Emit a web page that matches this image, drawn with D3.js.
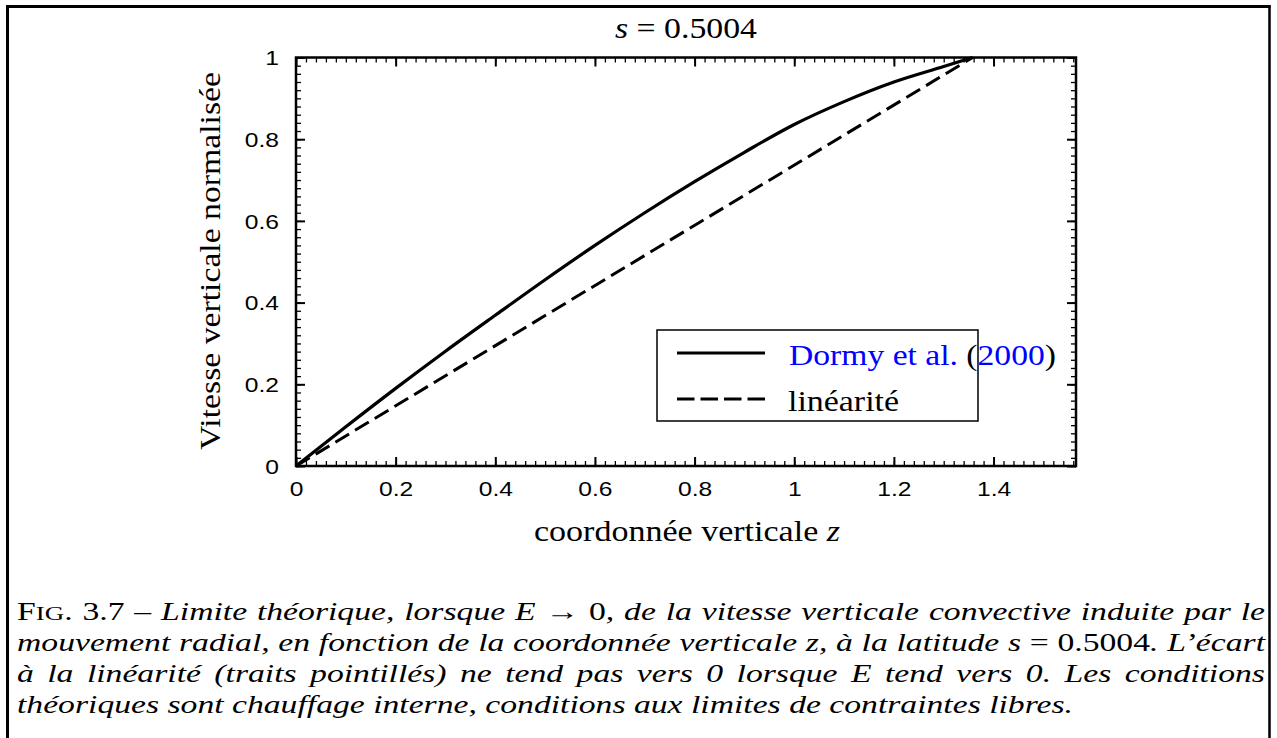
<!DOCTYPE html>
<html>
<head>
<meta charset="utf-8">
<script src="https://cdn.jsdelivr.net/npm/d3@7"></script>
<style>
  html, body { margin: 0; padding: 0; background: #fff; }
  svg { display: block; }
</style>
</head>
<body>
<svg id="fig"></svg>
<script>
// ---- data ----
var zDormy = [0, 0.1, 0.2, 0.3, 0.4, 0.5, 0.6, 0.7, 0.8, 0.9, 1.0, 1.1, 1.2, 1.3, 1.358];
var vDormy = [0, 0.096, 0.19, 0.281, 0.369, 0.456, 0.540, 0.620, 0.696, 0.768, 0.836, 0.892, 0.940, 0.978, 1.0];
var zLin = [0, 1.358];
var vLin = [0, 1];

var xMajor = [0, 0.2, 0.4, 0.6, 0.8, 1, 1.2, 1.4];
var yMajor = [0, 0.2, 0.4, 0.6, 0.8, 1];
var xMax = 1.5655;

var legendNames = ["Dormy et al. (2000)", "linéarité"];
var xLabel = "coordonnée verticale ";
var yLabel = "Vitesse verticale normalisée";

// caption: [text, style]  r = roman, sc = small caps, i = italic text, m = math italic
var caption = [
  [["F", "r"], ["IG", "sc"], [". 3.7 – ", "r"], ["Limite théorique, lorsque ", "i"], ["E", "m"], [" → 0", "r"],
   [", de la vitesse verticale convective induite par le", "i"]],
  [["mouvement radial, en fonction de la coordonnée verticale ", "i"], ["z", "m"], [", à la latitude ", "i"],
   ["s", "m"], [" = 0.5004", "r"], [". L’écart", "i"]],
  [["à la linéarité (traits pointillés) ne tend pas vers 0 lorsque ", "i"], ["E", "m"],
   [" tend vers 0. Les conditions", "i"]],
  [["théoriques sont chauffage interne, conditions aux limites de contraintes libres.", "i"]]
];

(function() {
  "use strict";
  var W = 1277, H = 738;
  var serif = "'Liberation Serif', 'Times New Roman', serif";
  var sans = "'Liberation Sans', Arial, sans-serif";

  var svg = d3.select("#fig").attr("width", W).attr("height", H);

  var x = d3.scaleLinear().domain([0, xMax]).range([296, 1076]);
  var y = d3.scaleLinear().domain([0, 1]).range([466, 57.5]);

  var minorX = d3.range(0, 79).map(function(i) { return i * 0.02; }).filter(function(v) { return v <= xMax; });
  var minorY = d3.range(0, 51).map(function(i) { return i * 0.02; });
  var fmt = d3.format("~g");

  // outer frame (open at the bottom)
  svg.append("line").attr("x1", 7.5).attr("x2", 7.5).attr("y1", 5).attr("y2", H)
    .attr("stroke", "#000").attr("stroke-width", 3);
  svg.append("line").attr("x1", 6).attr("x2", 1270.5).attr("y1", 6.5).attr("y2", 6.5)
    .attr("stroke", "#000").attr("stroke-width", 3);
  svg.append("line").attr("x1", 1269.5).attr("x2", 1269.5).attr("y1", 5).attr("y2", H)
    .attr("stroke", "#000").attr("stroke-width", 2.5);

  var plot = svg.append("g");

  // minor ticks on all sides
  function minor(axis, tr) {
    plot.append("g").attr("transform", tr).call(axis.tickSize(-5).tickFormat(""))
      .call(function(g) { g.select(".domain").remove(); })
      .selectAll("line").attr("stroke", "#000").attr("stroke-width", 1.3);
  }
  minor(d3.axisBottom(x).tickValues(minorX), "translate(0,466)");
  minor(d3.axisTop(x).tickValues(minorX), "translate(0,57.5)");
  minor(d3.axisLeft(y).tickValues(minorY), "translate(296,0)");
  minor(d3.axisRight(y).tickValues(minorY), "translate(1076,0)");

  // major ticks
  function major(axis, tr, labels) {
    var g = plot.append("g").attr("transform", tr).call(axis.tickSize(-9))
      .call(function(g) { g.select(".domain").remove(); });
    g.selectAll("line").attr("stroke", "#000").attr("stroke-width", 2);
    if (!labels) g.selectAll("text").remove();
    return g;
  }
  var xb = major(d3.axisBottom(x).tickValues(xMajor).tickFormat(fmt).tickPadding(15), "translate(0,466)", true);
  xb.selectAll("text").attr("font-family", sans).attr("font-size", 20.5).attr("fill", "#000")
    .attr("transform", "scale(1.2,1)");
  major(d3.axisTop(x).tickValues(xMajor), "translate(0,57.5)", false);
  var yl = major(d3.axisLeft(y).tickValues(yMajor).tickFormat(fmt), "translate(296,0)", true);
  yl.selectAll("text").attr("font-family", sans).attr("font-size", 20.5).attr("fill", "#000")
    .attr("x", -17 / 1.2).attr("dy", "0.36em").attr("transform", "scale(1.2,1)");
  major(d3.axisRight(y).tickValues(yMajor), "translate(1076,0)", false);

  // plot frame
  plot.append("rect").attr("x", 296).attr("y", 57.5).attr("width", 780).attr("height", 408.5)
    .attr("fill", "none").attr("stroke", "#000").attr("stroke-width", 2.5);

  // curves
  var line = d3.line().x(function(d) { return x(d[0]); }).y(function(d) { return y(d[1]); })
    .curve(d3.curveMonotoneX);
  plot.append("path").datum(d3.zip(zLin, vLin)).attr("d", line)
    .attr("fill", "none").attr("stroke", "#000").attr("stroke-width", 3).attr("stroke-dasharray", "16,7");
  plot.append("path").datum(d3.zip(zDormy, vDormy)).attr("d", line)
    .attr("fill", "none").attr("stroke", "#000").attr("stroke-width", 3.2);

  // title
  var t = svg.append("text").attr("x", 686).attr("y", 38).attr("text-anchor", "middle")
    .attr("font-family", serif).attr("font-size", 30).attr("textLength", 142).attr("lengthAdjust", "spacingAndGlyphs");
  t.append("tspan").attr("font-style", "italic").text("s");
  t.append("tspan").text(" = 0.5004");

  // axis labels
  var xl = svg.append("text").attr("x", 687).attr("y", 541).attr("text-anchor", "middle")
    .attr("font-family", serif).attr("font-size", 30).attr("textLength", 306).attr("lengthAdjust", "spacingAndGlyphs");
  xl.append("tspan").text(xLabel);
  xl.append("tspan").attr("font-style", "italic").text("z");

  svg.append("text").attr("transform", "translate(220,261) rotate(-90)").attr("text-anchor", "middle")
    .attr("font-family", serif).attr("font-size", 30).attr("textLength", 378).attr("lengthAdjust", "spacingAndGlyphs")
    .text(yLabel);

  // legend
  var lg = svg.append("g");
  lg.append("rect").attr("x", 657).attr("y", 330).attr("width", 321).attr("height", 91)
    .attr("fill", "#fff").attr("stroke", "#000").attr("stroke-width", 1.5);
  lg.append("line").attr("x1", 677).attr("x2", 765).attr("y1", 353).attr("y2", 353)
    .attr("stroke", "#000").attr("stroke-width", 3);
  lg.append("line").attr("x1", 677).attr("x2", 765).attr("y1", 399).attr("y2", 399)
    .attr("stroke", "#000").attr("stroke-width", 3).attr("stroke-dasharray", "17.5,6");
  var l1 = lg.append("text").attr("x", 789).attr("y", 365).attr("font-family", serif).attr("font-size", 30)
    .attr("textLength", 267).attr("lengthAdjust", "spacingAndGlyphs");
  var parts = legendNames[0].match(/^(.*? )(\()(\d+)(\))$/);
  l1.append("tspan").attr("fill", "#0000ff").text(parts[1]);
  l1.append("tspan").attr("fill", "#000").text(parts[2]);
  l1.append("tspan").attr("fill", "#0000ff").text(parts[3]);
  l1.append("tspan").attr("fill", "#000").text(parts[4]);
  lg.append("text").attr("x", 788).attr("y", 411).attr("font-family", serif).attr("font-size", 30)
    .attr("textLength", 111).attr("lengthAdjust", "spacingAndGlyphs").text(legendNames[1]);

  // caption
  var capX = 17, capW = 1248, lastW = 1056, baseY = 620, lead = 31, fs = 24.5;
  var lines = caption.map(function(segs, i) {
    var tx = svg.append("text").attr("x", capX).attr("y", baseY + i * lead)
      .attr("font-family", serif).attr("font-size", fs).attr("fill", "#000");
    segs.forEach(function(s) {
      var sp = tx.append("tspan").text(s[0]);
      if (s[1] === "i" || s[1] === "m") sp.attr("font-style", "italic");
      if (s[1] === "sc") sp.attr("font-size", "0.8em");
    });
    return tx;
  });
  // horizontal stretch from the last (unjustified) line, then justify the others with word spacing
  var k = lastW / lines[3].node().getComputedTextLength();
  lines[3].attr("textLength", lastW).attr("lengthAdjust", "spacingAndGlyphs");
  lines.slice(0, 3).forEach(function(l, i) {
    var w = l.node().getComputedTextLength();
    var n = caption[i].map(function(s) { return s[0]; }).join("").split(" ").length - 1;
    l.attr("word-spacing", Math.max(0, (capW / k - w) / n));
    l.attr("textLength", capW).attr("lengthAdjust", "spacingAndGlyphs");
  });
})();
</script>
</body>
</html>
